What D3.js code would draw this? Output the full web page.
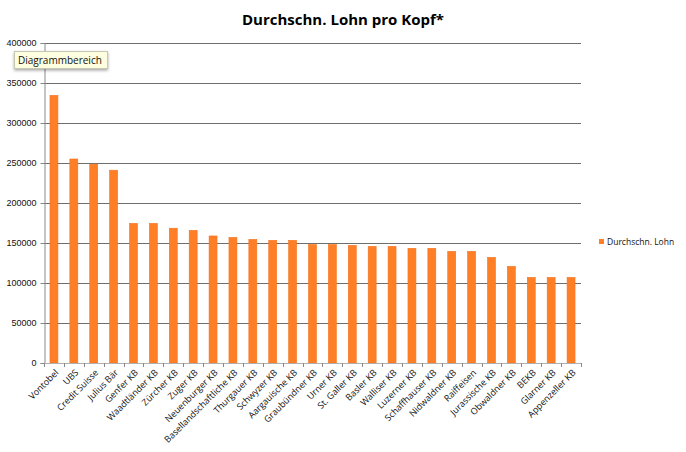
<!DOCTYPE html>
<html>
<head>
<meta charset="utf-8">
<script src="https://cdn.jsdelivr.net/npm/d3@7"></script>
<style>
  body { margin: 0; background: #fff; }
  svg { display: block; font-family: "Open Sans", "Noto Sans", sans-serif; }
</style>
</head>
<body>
<svg id="chart" width="686" height="452"></svg>
<script>
const categories = ["Vontobel", "UBS", "Credit Suisse", "Julius Bär", "Genfer KB", "Waadtländer KB",
  "Zürcher KB", "Zuger KB", "Neuenburger KB", "Basellandschaftliche KB", "Thurgauer KB", "Schwyzer KB",
  "Aargauische KB", "Graubündner KB", "Urner KB", "St. Galler KB", "Basler KB", "Walliser KB",
  "Luzerner KB", "Schaffhauser KB", "Nidwaldner KB", "Raiffeisen", "Jurassische KB", "Obwaldner KB",
  "BEKB", "Glarner KB", "Appenzeller KB"];
const values = [334500, 255000, 248500, 241000, 174500, 174500,
  168500, 165800, 158800, 157000, 154500, 153300,
  153300, 148000, 148000, 147000, 145800, 145800,
  143300, 143300, 139500, 139500, 132000, 120800,
  107000, 107000, 107000];
const yTicks = [0, 50000, 100000, 150000, 200000, 250000, 300000, 350000, 400000];
const seriesName = "Durchschn. Lohn";
const title = "Durchschn. Lohn pro Kopf*";
const tooltipText = "Diagrammbereich";

(function () {
const svg = d3.select("#chart");
const mLeft = 44, mRight = 581, mTop = 43, mBottom = 363;

const x = d3.scaleBand().domain(categories).range([mLeft, mRight]).paddingInner(0.6).paddingOuter(0.3);
const y = d3.scaleLinear().domain([0, 400000]).range([mBottom, mTop]);

// gridlines
svg.append("g").selectAll("line").data(yTicks.filter(d => d > 0)).join("line")
  .attr("x1", mLeft).attr("x2", mRight)
  .attr("y1", d => Math.round(y(d)) + 0.5).attr("y2", d => Math.round(y(d)) + 0.5)
  .attr("stroke", "#6e6e6e").attr("stroke-width", 1);

// bars
svg.append("g").selectAll("rect").data(values).join("rect")
  .attr("x", (d, i) => x(categories[i]))
  .attr("width", x.bandwidth())
  .attr("y", d => y(d))
  .attr("height", d => y(0) - y(d))
  .attr("fill", "#ff7f27")
  .attr("stroke", "#f47320").attr("stroke-width", 0.6);

// y axis
const yAxis = svg.append("g").attr("transform", `translate(${mLeft + 0.5},0)`)
  .call(d3.axisLeft(y).tickValues(yTicks).tickFormat(d3.format("d")).tickSize(4).tickPadding(4));
yAxis.select(".domain").attr("stroke", "#8a8a8a");
yAxis.selectAll(".tick line").attr("stroke", "#8a8a8a");
yAxis.selectAll("text").attr("font-size", 9).attr("fill", "#111");

// x axis
const bounds = categories.map(c => x(c) - x.step() * x.paddingInner() / 2);
bounds.push(mRight);
const xg = svg.append("g");
xg.append("line").attr("x1", mLeft).attr("x2", mRight + 1)
  .attr("y1", mBottom + 0.5).attr("y2", mBottom + 0.5).attr("stroke", "#b0b0b0");
xg.selectAll("line.tk").data(bounds).join("line").attr("class", "tk")
  .attr("x1", d => Math.round(d) + 0.5).attr("x2", d => Math.round(d) + 0.5)
  .attr("y1", mBottom).attr("y2", mBottom + 4).attr("stroke", "#8a8a8a");
xg.selectAll("text").data(categories).join("text")
  .attr("transform", d => `translate(${x(d) + x.bandwidth() / 2 + 3},${mBottom + 8}) rotate(-45)`)
  .attr("text-anchor", "end")
  .attr("dy", "0.35em")
  .attr("font-size", 9)
  .attr("fill", "#111")
  .text(d => d);

// title
svg.append("text").attr("x", 343).attr("y", 25).attr("text-anchor", "middle")
  .attr("font-size", 15).attr("font-weight", "bold").attr("fill", "#000").text(title);

// legend
svg.append("rect").attr("x", 599).attr("y", 239).attr("width", 5).attr("height", 5).attr("fill", "#ff7f27");
svg.append("text").attr("x", 607).attr("y", 245).attr("font-size", 8.5).attr("fill", "#111").text(seriesName);

// tooltip
const defs = svg.append("defs");
const f = defs.append("filter").attr("id", "sh").attr("x", "-20%").attr("y", "-40%").attr("width", "140%").attr("height", "200%");
f.append("feDropShadow").attr("dx", 0).attr("dy", 1.5).attr("stdDeviation", 1.5).attr("flood-color", "#000").attr("flood-opacity", 0.35);
svg.append("rect").attr("x", 14.5).attr("y", 51.5).attr("width", 93).attr("height", 17)
  .attr("fill", "#fdfde0").attr("stroke", "#c8c8b0").attr("filter", "url(#sh)");
svg.append("text").attr("x", 18).attr("y", 64).attr("font-size", 10).attr("fill", "#111").text(tooltipText);
})();
</script>
</body>
</html>
